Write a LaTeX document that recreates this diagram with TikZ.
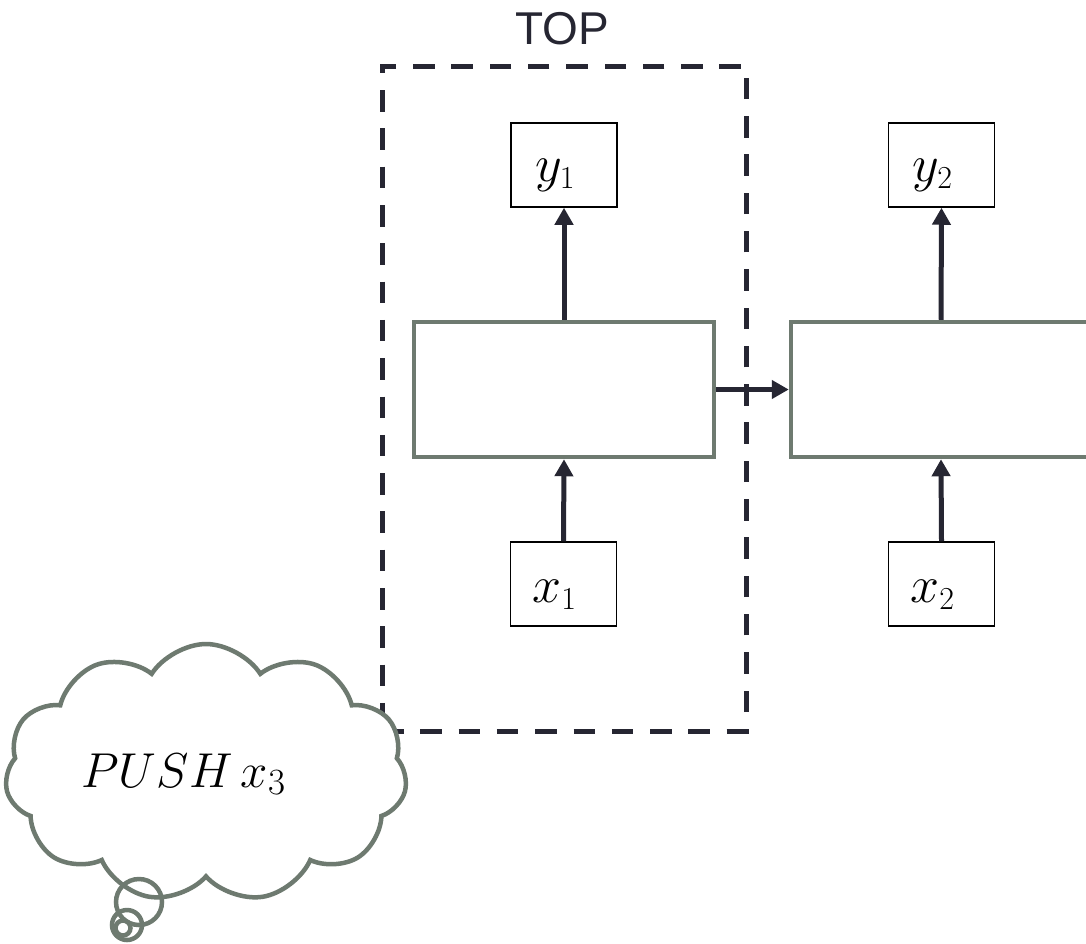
\RequirePackage{fix-cm}
\documentclass[tikz,border=0pt]{standalone}
\usepackage{fontspec}
\setmainfont{Liberation Sans}
\DeclareMathSizes{52}{52}{32}{24}
\DeclareMathSizes{49}{49}{37}{27}
\usetikzlibrary{arrows.meta,shapes.symbols}
\definecolor{cgreen}{RGB}{110,122,112}
\definecolor{cdark}{RGB}{38,38,50}
\tikzset{
  cell/.style={draw=cgreen, line width=4.5pt, fill=white, minimum width=300pt, minimum height=135pt, inner sep=0pt},
  iobox/.style={draw=black, line width=1.5pt, fill=white, minimum width=106pt, minimum height=84pt, inner sep=0pt},
  lbl/.style={anchor=base, inner sep=0pt, font=\fontsize{52}{58}\selectfont},
  arr/.style={draw=cdark, line width=5pt, -{Triangle[length=17pt,width=18pt]}},
  dashbox/.style={draw=cdark, line width=5pt, dash pattern=on 21.5pt off 16.8pt, minimum width=364pt, minimum height=665pt, inner sep=0pt},
  bubble/.style={circle, draw=cgreen, line width=4.5pt, inner sep=0pt},
}
\begin{document}
\begin{tikzpicture}[x=1pt,y=-1pt]
\clip (0,0) rectangle (1086,943);
\fill[white] (0,0) rectangle (1086,943);
% dashed TOP frame
\node[dashbox] (frame) at (564,398.5) {};
\node[text=cdark, font=\fontsize{46}{52}\selectfont, inner sep=0pt] (toplbl) at (562.5,28.5) {TOP};
% cells
\node[cell] (h1) at (564,389.5) {};
\node[cell] (h2) at (941,389.5) {};
% io boxes
\node[iobox] (y1) at (564,165) {};
\node[iobox] (y2) at (941.5,165) {};
\node[iobox] (x1) at (563.5,584) {};
\node[iobox] (x2) at (941.5,584) {};
\node[lbl] (ly1) at ([xshift=-9pt,yshift=-16pt]y1.center) {$y_1$};
\node[lbl] (ly2) at ([xshift=-9pt,yshift=-16pt]y2.center) {$y_2$};
\node[lbl] (lx1) at ([xshift=-9pt,yshift=-18pt]x1.center) {$x_1$};
\node[lbl] (lx2) at ([xshift=-9pt,yshift=-18pt]x2.center) {$x_2$};
% arrows
\draw[arr] (h1.north) -- (y1.south);
\draw[arr] (h2.north) -- (y2.south);
\draw[arr] (x1.north) -- (h1.south);
\draw[arr] (x2.north) -- (h2.south);
\draw[arr] (h1.east) -- (h2.west);
% cloud
\node[cloud, cloud puffs=11, cloud puff arc=115, aspect=1.55, draw=cgreen, line width=4.5pt, fill=white, minimum width=402pt, minimum height=258pt, inner sep=0pt] (cloud) at (206,773) {};
\node[anchor=base, inner sep=0pt, font=\fontsize{49}{55}\selectfont] (push) at (183.5,787) {$PUSH\,x_3$};
\node[bubble, minimum size=46pt] (b1) at (139,902) {};
\node[bubble, minimum size=30pt] (b2) at (127,925) {};
\node[bubble, minimum size=15pt] (b3) at (123,928) {};
\end{tikzpicture}
\end{document}
